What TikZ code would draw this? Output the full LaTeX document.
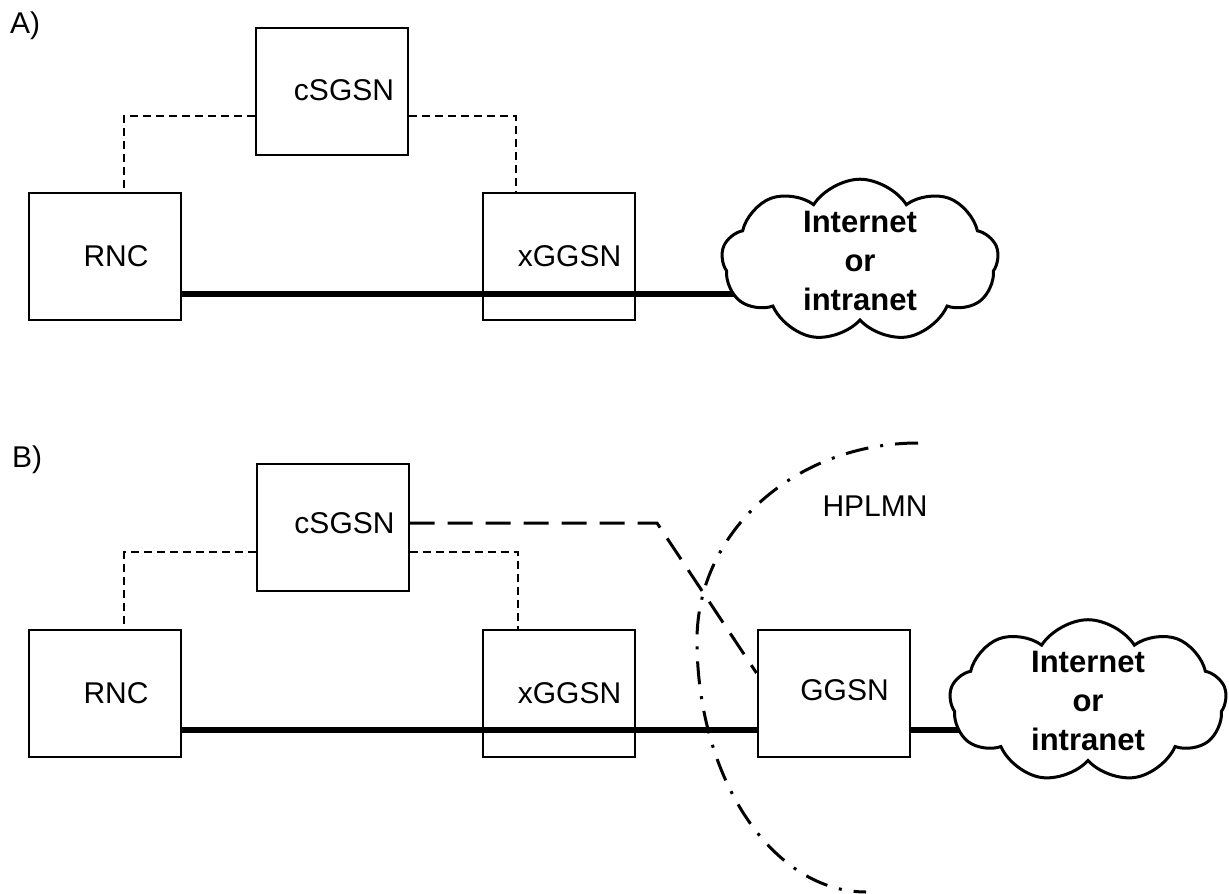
\documentclass[tikz,border=0pt]{standalone}
\usepackage{fontspec}
\setmainfont{Liberation Sans}
\usetikzlibrary{shapes.symbols,backgrounds}

\begin{document}
\begin{tikzpicture}[x=1pt,y=-1pt,
  box/.style={draw,line width=2pt,minimum width=152pt,minimum height=127pt,inner sep=0pt},
  lbl/.style={font=\fontsize{30}{36}\selectfont,inner sep=0pt},
  net/.style={cloud,cloud puffs=9,cloud puff arc=115,cloud ignores aspect,draw,
    line width=3pt,fill=white,minimum width=277pt,minimum height=145pt,inner sep=0pt,
    align=center,font=\fontsize{31}{39}\selectfont\bfseries},
  ctl/.style={line width=2pt,dash pattern=on 8pt off 5pt},
  usr/.style={line width=6pt},
  gtp/.style={line width=3pt,dash pattern=on 25pt off 13pt},
  border/.style={line width=3pt,dash pattern=on 23pt off 12pt on 3pt off 12pt}
]
\useasboundingbox (0,0) rectangle (1229,894);

% ---------- A) ----------
\node[lbl,anchor=base west] (capA) at (10,33) {A)};
\node[box,label={[lbl,xshift=12pt,yshift=1pt]center:cSGSN}] (csgA) at (332,91.5) {};
\node[box,label={[lbl,xshift=11pt]center:RNC}] (rncA) at (105,256.5) {};
\node[box,label={[lbl,xshift=11pt]center:xGGSN}] (xgA) at (558.5,256.5) {};
\node[net] (netA) at (860,260.5) {Internet\\or\\intranet};

\draw[ctl] ([yshift=-24.5pt]csgA.west) -| ([xshift=19pt]rncA.north);
\draw[ctl] ([yshift=-24.5pt]csgA.east) -| ([xshift=-42.5pt]xgA.north);
\begin{pgfonlayer}{background}
  \draw[usr] ([yshift=-37.5pt]rncA.east) -- ([yshift=-37.5pt]rncA.east -| netA.center);
\end{pgfonlayer}

% ---------- B) ----------
\node[lbl,anchor=base west] (capB) at (12,467) {B)};
\node[box,label={[lbl,xshift=12pt,yshift=4pt]center:cSGSN}] (csgB) at (332.5,527) {};
\node[box,label={[lbl,xshift=11pt]center:RNC}] (rncB) at (105,693) {};
\node[box,label={[lbl,xshift=11pt]center:xGGSN}] (xgB) at (558.5,693) {};
\node[box,label={[lbl,xshift=11pt,yshift=3pt]center:GGSN}] (ggsn) at (833.5,693) {};
\node[net] (netB) at (1088,701) {Internet\\or\\intranet};
\node[lbl] (hplmn) at (875,506) {HPLMN};
\coordinate (bend) at (657,523);

\draw[ctl] ([yshift=-25pt]csgB.west) -| ([xshift=19pt]rncB.north);
\draw[ctl] ([yshift=-25pt]csgB.east) -| ([xshift=-40.5pt]xgB.north);
\draw[gtp] ([yshift=4pt]csgB.east) -- (bend) -- ([yshift=20pt]ggsn.west);
\draw[usr] ([yshift=-37pt]rncB.east) -- ([yshift=-37pt]ggsn.west);
\begin{pgfonlayer}{background}
  \draw[usr] ([yshift=-37pt]ggsn.east) -- ([yshift=-37pt]ggsn.east -| netB.center);
\end{pgfonlayer}

% network boundary of the home PLMN
\draw[border] (918,443) .. controls (796,443) and (697,531) .. (697,640)
  .. controls (697,779) and (773,892) .. (866,892);
\end{tikzpicture}
\end{document}
